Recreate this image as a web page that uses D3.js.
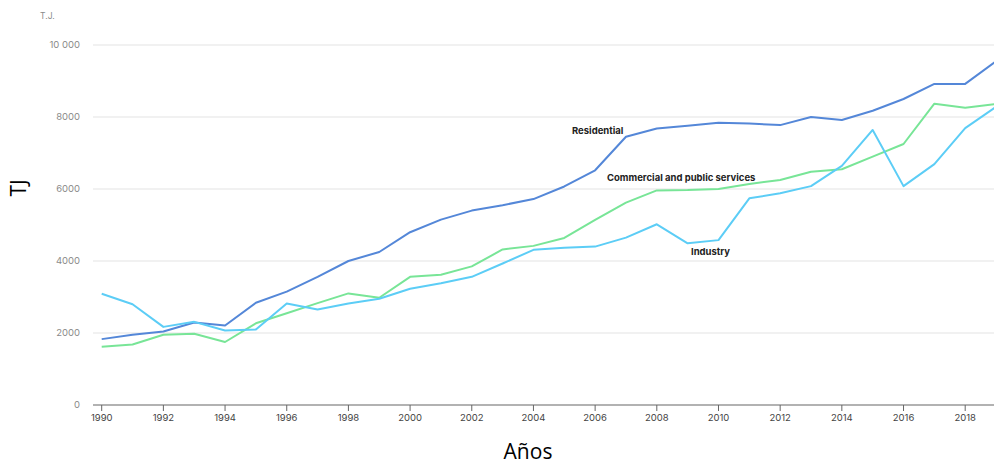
<!DOCTYPE html>
<html lang="es">
<head>
<meta charset="UTF-8">
<title>TJ por sector</title>
<style>
  body { margin: 0; background: #fff; font-family: Inter, sans-serif; }
  #chart svg { display: block; }
</style>
</head>
<body>
<div id="chart"></div>
<script src="https://d3js.org/d3.v7.min.js"></script>
<script>
const years = d3.range(1990, 2020);
const residential = [1830, 1950, 2040, 2290, 2210, 2840, 3150, 3560, 4000, 4250,
  4800, 5150, 5400, 5550, 5720, 6070, 6520, 7450, 7680, 7760,
  7840, 7820, 7775, 8000, 7915, 8175, 8500, 8920, 8920, 9550];
const commercial = [1620, 1680, 1950, 1980, 1750, 2270, 2550, 2830, 3100, 2980,
  3560, 3620, 3850, 4320, 4420, 4640, 5140, 5620, 5960, 5970,
  6000, 6140, 6250, 6480, 6550, 6900, 7250, 8370, 8260, 8360];
const industry = [3090, 2800, 2170, 2310, 2070, 2100, 2820, 2650, 2820, 2950,
  3230, 3380, 3560, 3930, 4310, 4370, 4400, 4650, 5020, 4490,
  4580, 5740, 5880, 6080, 6640, 7640, 6080, 6690, 7690, 8280];
const yTicks = [0, 2000, 4000, 6000, 8000, 10000];
const xTicks = d3.range(1990, 2020, 2);

const series = [
  { name: "Residential", values: residential, color: "#5487d8", lx: 572, ly: 131 },
  { name: "Commercial and public services", values: commercial, color: "#78e597", lx: 607, ly: 178 },
  { name: "Industry", values: industry, color: "#5ccdf6", lx: 691, ly: 252 }
];

const width = 994, height = 466;
const margin = { left: 93, top: 45, bottom: 61 };

const x = d3.scaleLinear().domain([1990, 2018]).range([101.7, 965.2]);
const y = d3.scaleLinear().domain([0, 10000]).range([height - margin.bottom, margin.top]);

const svg = d3.select("#chart").append("svg")
  .attr("width", width)
  .attr("height", height);

// grid
svg.append("g")
  .selectAll("line")
  .data(yTicks.slice(1))
  .join("line")
  .attr("x1", margin.left)
  .attr("x2", width)
  .attr("y1", d => y(d))
  .attr("y2", d => y(d))
  .attr("stroke", "#ececec")
  .attr("stroke-width", 1.5);

// y labels
svg.append("g")
  .attr("text-anchor", "end")
  .attr("font-size", 9.5)
  .attr("fill", "#8a8a8a")
  .selectAll("text")
  .data(yTicks)
  .join("text")
  .attr("x", 80)
  .attr("y", d => y(d))
  .attr("dy", "0.35em")
  .text(d => d === 10000 ? "10 000" : d);

svg.append("text")
  .attr("x", 40)
  .attr("y", 19)
  .attr("font-size", 8.5)
  .attr("fill", "#8a8a8a")
  .text("T.J.");

// x axis
const xAxis = svg.append("g")
  .attr("transform", `translate(0,${y(0)})`);
xAxis.append("line")
  .attr("x1", margin.left)
  .attr("x2", width)
  .attr("stroke", "#666")
  .attr("stroke-width", 1.2);
const xt = xAxis.selectAll("g")
  .data(xTicks)
  .join("g")
  .attr("transform", d => `translate(${x(d)},0)`);
xt.append("line")
  .attr("y2", 6)
  .attr("stroke", "#666");
xt.append("text")
  .attr("y", 16)
  .attr("text-anchor", "middle")
  .attr("font-size", 9.5)
  .attr("fill", "#444")
  .text(d => d);

// lines
const line = d3.line()
  .x((d, i) => x(years[i]))
  .y(d => y(d));

svg.append("g")
  .selectAll("path")
  .data(series)
  .join("path")
  .attr("fill", "none")
  .attr("stroke", d => d.color)
  .attr("stroke-width", 2)
  .attr("stroke-linejoin", "round")
  .attr("d", d => line(d.values));

// series labels
svg.append("g")
  .attr("font-size", 9.5)
  .attr("font-weight", "bold")
  .attr("fill", "#222")
  .selectAll("text")
  .data(series)
  .join("text")
  .attr("x", d => d.lx)
  .attr("y", d => d.ly)
  .attr("dy", "0.35em")
  .text(d => d.name);

// axis titles
svg.append("text")
  .attr("transform", "translate(26,188) rotate(-90)")
  .attr("text-anchor", "middle")
  .attr("font-family", "'Open Sans', sans-serif")
  .attr("font-size", 21)
  .attr("fill", "#000")
  .text("TJ");

svg.append("text")
  .attr("x", 528)
  .attr("y", 459)
  .attr("text-anchor", "middle")
  .attr("font-family", "'Open Sans', sans-serif")
  .attr("font-size", 21)
  .attr("fill", "#000")
  .text("Años");
</script>
</body>
</html>
